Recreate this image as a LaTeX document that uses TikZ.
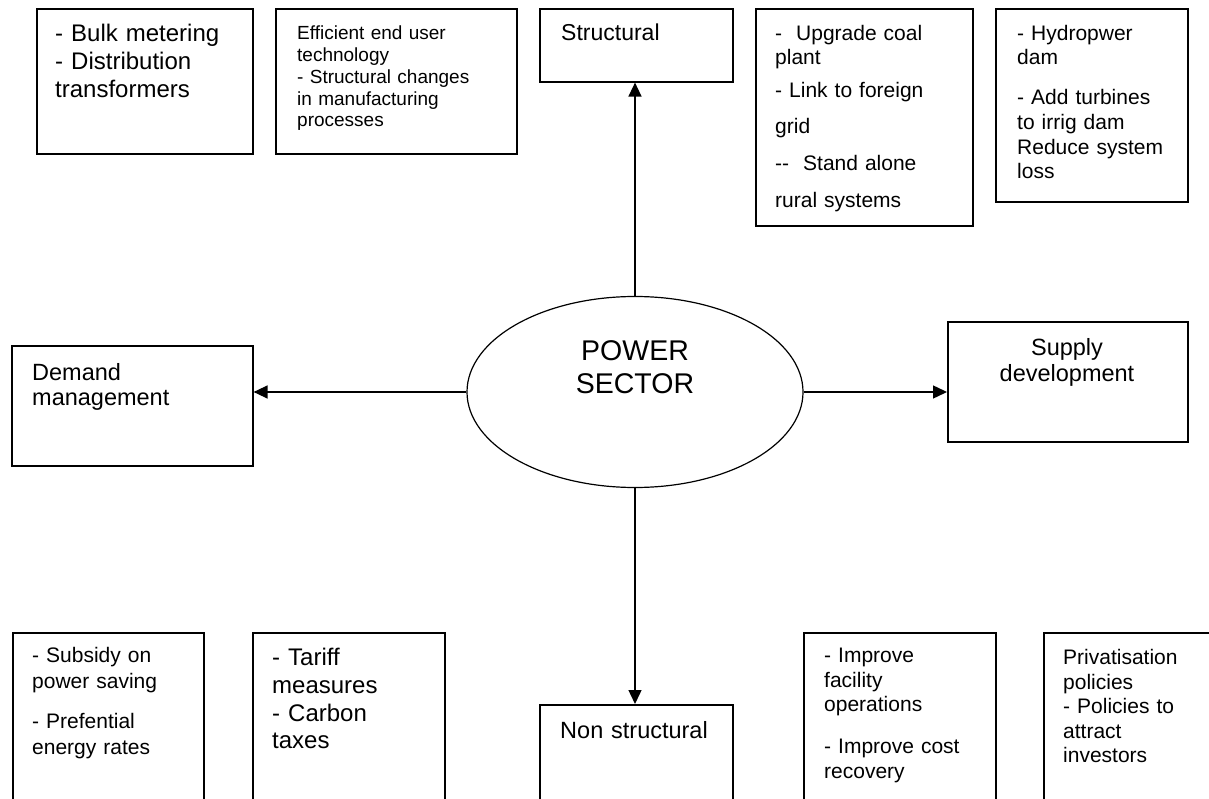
\documentclass[tikz,border=0pt]{standalone}
\usepackage{fontspec}
\setmainfont{Liberation Sans}
\usetikzlibrary{shapes.geometric,arrows.meta}
\newcommand\myfs[2]{\fontsize{#1}{#2}\selectfont}
\begin{document}
\begin{tikzpicture}[x=1pt,y=-1pt,
  box/.style={draw, line width=1.6pt, rectangle, inner sep=0pt, anchor=north west},
  txt/.style={inner sep=0pt, anchor=base west, text width=260pt, align=left},
  ctxt/.style={inner sep=0pt, anchor=base, text width=260pt, align=center},
  conn/.style={line width=1.4pt, -{Triangle[length=14pt,width=13pt]}}]
\useasboundingbox (0,0) rectangle (1209,799);
\clip (0,0) rectangle (1209,799);
% top row
\node[box, minimum width=216pt, minimum height=145pt] (bulk) at (36,8) {};
\node[txt, font=\myfs{24}{28}] (bulkt) at (55,42) {- Bulk metering\\- Distribution\\transformers};
\node[box, minimum width=241pt, minimum height=145pt] (eff) at (275,8) {};
\node[txt, font=\myfs{19}{21.7}] (efft) at (297,40) {Efficient end user\\technology\\- Structural changes\\in manufacturing\\processes};
\node[box, minimum width=193pt, minimum height=73pt] (struct) at (539,8) {};
\node[txt, font=\myfs{23}{26}] (structt) at (561,41) {Structural};
\node[box, minimum width=217pt, minimum height=217pt] (coal) at (755,8) {};
\node[txt, font=\myfs{21}{24}] (coalt) at (775,40.6) {-\ \ Upgrade coal\\plant\\[9pt]- Link to foreign\\[12pt]grid\\[13pt]-{}-\ \ Stand alone\\[13pt]rural systems};
\node[box, minimum width=192pt, minimum height=193pt] (hydro) at (995,8) {};
\node[txt, font=\myfs{21}{24}] (hydrot) at (1017,40.6) {- Hydropwer\\dam\\[16pt]- Add turbines\\[1pt]to irrig dam\\[1pt]Reduce system\\loss};
% middle row
\node[box, minimum width=241pt, minimum height=120pt] (demand) at (11,345) {};
\node[txt, font=\myfs{23.5}{25}] (demandt) at (32,380.5) {Demand\\management};
\node[draw, ellipse, line width=1.2pt, minimum width=336pt, minimum height=191pt, inner sep=0pt] (power) at (635,392) {};
\node[ctxt, font=\myfs{28.5}{33}] (powert) at (635,360) {POWER\\SECTOR};
\node[box, minimum width=240pt, minimum height=120pt] (supply) at (947,321) {};
\node[ctxt, font=\myfs{23.5}{26}] (supplyt) at (1067,355.5) {Supply\\development};
% bottom row
\node[box, minimum width=193pt, minimum height=200pt] (nonstr) at (539,704) {};
\node[ctxt, font=\myfs{23.5}{26}] (nonstrt) at (634,738.5) {Non structural};
\node[box, minimum width=191pt, minimum height=200pt] (subsidy) at (12,632) {};
\node[txt, font=\myfs{21}{26}] (subsidyt) at (32,662.6) {- Subsidy on\\power saving\\[14pt]- Prefential\\energy rates};
\node[box, minimum width=192pt, minimum height=200pt] (tariff) at (252,632) {};
\node[txt, font=\myfs{24}{27.7}] (tarifft) at (272,665.6) {- Tariff\\measures\\- Carbon\\taxes};
\node[box, minimum width=192pt, minimum height=200pt] (improve) at (803,632) {};
\node[txt, font=\myfs{21}{24.5}] (improvet) at (824,662.6) {- Improve\\facility\\operations\\[17.5pt]- Improve cost\\recovery};
\node[box, minimum width=200pt, minimum height=200pt] (privat) at (1043,632) {};
\node[txt, font=\myfs{21}{24.5}] (privatt) at (1063,664.6) {Privatisation\\policies\\- Policies to\\attract\\investors};
% connectors
\draw[conn] (power.north) -- (power.north |- struct.south);
\draw[conn] (power.south) -- (power.south |- nonstr.north);
\draw[conn] (power.west) -- (power.west -| demand.east);
\draw[conn] (power.east) -- (power.east -| supply.west);
\end{tikzpicture}
\end{document}
